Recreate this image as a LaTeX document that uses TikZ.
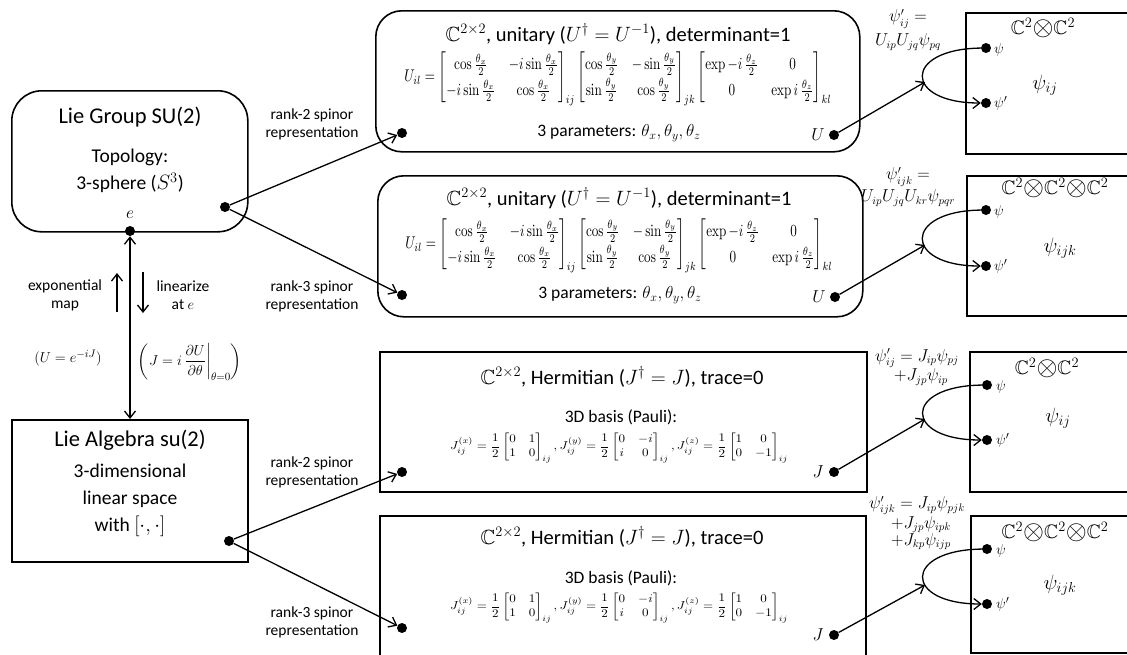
\documentclass[tikz,border=0pt]{standalone}
\usepackage{amsmath,amssymb}
\usepackage{graphicx}
\usepackage[no-math]{fontspec}
\setmainfont{Carlito}
\usetikzlibrary{arrows.meta}
\tikzset{
  box/.style={draw, line width=1.6pt, inner sep=0pt, anchor=north west},
  rbox/.style={box, rounded corners=26pt},
  dot/.style={circle, fill, inner sep=0pt, minimum size=10pt},
  tip/.style={-{Straight Barb[length=7pt,width=11pt,line width=1.3pt]}},
  conn/.style={line width=1.3pt, tip},
  lbl/.style={font=\fontsize{15.5}{18}\selectfont, align=center, inner sep=0pt},
  big/.style={font=\fontsize{22.5}{27}\selectfont, align=center, inner sep=0pt},
  mid/.style={font=\fontsize{19.5}{27}\selectfont, align=center, inner sep=0pt},
  ttl/.style={font=\fontsize{20.5}{24}\selectfont, inner sep=0pt},
  sub/.style={font=\fontsize{17.5}{21}\selectfont, inner sep=0pt},
  eq/.style={font=\fontsize{16}{24}\selectfont, inner sep=0pt, align=center},
  sm/.style={font=\fontsize{15}{18}\selectfont, inner sep=0pt},
  ten/.style={font=\fontsize{19.5}{22}\selectfont, inner sep=0pt},
  psi/.style={font=\fontsize{21}{24}\selectfont, inner sep=0pt},
}
\newcommand{\Umat}{\resizebox*{427pt}{54pt}{\renewcommand{\arraystretch}{1.25}$U_{il}=\begin{bmatrix}\cos\frac{\theta_x}{2} & -i\sin\frac{\theta_x}{2}\\ -i\sin\frac{\theta_x}{2} & \cos\frac{\theta_x}{2}\end{bmatrix}_{ij}\begin{bmatrix}\cos\frac{\theta_y}{2} & -\sin\frac{\theta_y}{2}\\ \sin\frac{\theta_y}{2} & \cos\frac{\theta_y}{2}\end{bmatrix}_{jk}\begin{bmatrix}\exp -i\,\frac{\theta_z}{2} & 0\\ 0 & \exp i\,\frac{\theta_z}{2}\end{bmatrix}_{kl}$}}
\newcommand{\Jmat}{\resizebox*{338pt}{30pt}{$J^{(x)}_{ij}=\dfrac{1}{2}\begin{bmatrix}0&1\\1&0\end{bmatrix}_{ij},J^{(y)}_{ij}=\dfrac{1}{2}\begin{bmatrix}0&-i\\i&0\end{bmatrix}_{ij},J^{(z)}_{ij}=\dfrac{1}{2}\begin{bmatrix}1&0\\0&-1\end{bmatrix}_{ij}$}}
\newcommand{\tensor}{\mathord{\raisebox{-0.12ex}{\scalebox{1.3}{$\otimes$}}}}
\begin{document}
\begin{tikzpicture}[x=1pt,y=-1pt]
\useasboundingbox (0,0) rectangle (1127,654);
\path[clip] (0,0) rectangle (1127,654);

% ---------- left column ----------
\node[rbox, rounded corners=30pt, minimum width=236pt, minimum height=141pt] (lg) at (11,90) {};
\node[big] (lgt) at (130,117) {Lie Group SU(2)};
\node[mid] (lgtop) at (130,171) {Topology:\\3-sphere ($S^3$)};
\node[sub] (elab) at (130,215) {$e$};
\node[dot] (e) at (130,231) {};
\node[dot] (lgd) at (225,207) {};

\node[box, minimum width=236pt, minimum height=142pt] (la) at (11,419) {};
\node[big] (lat) at (130,440) {Lie Algebra su(2)};
\node[mid] (lasub) at (130,500) {3-dimensional\\linear space\\with $[\cdot,\cdot]$};
\node[dot] (lad) at (229,541) {};

\draw[line width=1.3pt, {Straight Barb[length=7pt,width=11pt,line width=1.3pt]}-{Straight Barb[length=7pt,width=11pt,line width=1.3pt]}] (e) -- (e |- la.north);

\coordinate (ua) at (117,312); \coordinate (ub) at (117,273);
\coordinate (da) at (143,272); \coordinate (db) at (143,313);
\draw[conn] (ua) -- (ub);
\draw[conn] (da) -- (db);
\node[lbl] (expl) at (65,295) {exponential\\map};
\node[lbl] (linl) at (183,295) {linearize\\at $e$};
\node[sm] (ueq) at (68,358) {$(U=e^{-iJ})$};
\node[sm] (jeq) at (190,362) {$\left(J=i\,\dfrac{\partial U}{\partial\theta}\bigg|_{\theta=0}\right)$};

\node[lbl] (r2a) at (312,124) {rank-2 spinor\\representation};
\node[lbl] (r3a) at (312,296) {rank-3 spinor\\representation};
\node[lbl] (r2b) at (312,472) {rank-2 spinor\\representation};
\node[lbl] (r3b) at (312,622) {rank-3 spinor\\representation};

% ---------- middle column ----------
\node[rbox, minimum width=484pt, minimum height=141pt] (b1) at (375,10) {};
\node[ttl] (b1t) at (618,34) {$\mathbb{C}^{2\times 2}$, unitary ($U^\dagger=U^{-1}$), determinant=1};
\node[inner sep=0pt] (b1m) at (618,79) {\Umat};
\node[sub] (b1p) at (619,133) {3 parameters: $\theta_x,\theta_y,\theta_z$};
\node[dot] (b1l) at (402,133) {};
\node[dot] (b1r) at (834,135) {};
\node[sub] (b1u) at (818,135) {$U$};

\node[rbox, minimum width=485pt, minimum height=141pt] (b2) at (377,175) {};
\node[ttl] (b2t) at (619,198) {$\mathbb{C}^{2\times 2}$, unitary ($U^\dagger=U^{-1}$), determinant=1};
\node[inner sep=0pt] (b2m) at (619,246) {\Umat};
\node[sub] (b2p) at (620,295) {3 parameters: $\theta_x,\theta_y,\theta_z$};
\node[dot] (b2l) at (402,295) {};
\node[dot] (b2r) at (835,297) {};
\node[sub] (b2u) at (819,297) {$U$};

\node[box, minimum width=487pt, minimum height=140pt] (b3) at (379,351) {};
\node[ttl] (b3t) at (622,377) {$\mathbb{C}^{2\times 2}$, Hermitian ($J^\dagger=J$), trace=0};
\node[sub] (b3b) at (621,417) {3D basis (Pauli):};
\node[inner sep=0pt] (b3m) at (619,448) {\Jmat};
\node[dot] (b3l) at (402,472) {};
\node[dot] (b3r) at (834,472) {};
\node[sub] (b3j) at (818,472) {$J$};

\node[box, minimum width=486pt, minimum height=160pt] (b4) at (379,515) {};
\node[ttl] (b4t) at (622,537) {$\mathbb{C}^{2\times 2}$, Hermitian ($J^\dagger=J$), trace=0};
\node[sub] (b4b) at (621,578) {3D basis (Pauli):};
\node[inner sep=0pt] (b4m) at (619,608) {\Jmat};
\node[dot] (b4l) at (402,628) {};
\node[dot] (b4r) at (834,635) {};
\node[sub] (b4j) at (818,635) {$J$};

% ---------- right column ----------
\node[box, minimum width=200pt, minimum height=141pt] (c1) at (965,12) {};
\node[ten] (c1t) at (1043,28) {$\mathbb{C}^2\tensor\mathbb{C}^2$};
\node[psi] (c1p) at (1045,85) {$\psi_{ij}$};
\node[dot] (c1a) at (986,48) {};
\node[dot] (c1b) at (986,103) {};
\node[sm, anchor=west] (c1al) at (994,50) {$\psi$};
\node[sm, anchor=west] (c1bl) at (994,103) {$\psi'$};
\coordinate (t1) at (925,82);
\node[eq] (e1) at (908,30) {$\psi'_{ij}=$\\$U_{ip}U_{jq}\psi_{pq}$};

\node[box, minimum width=200pt, minimum height=140pt] (c2) at (966,175) {};
\node[ten] (c2t) at (1055,188) {$\mathbb{C}^2\tensor\mathbb{C}^2\tensor\mathbb{C}^2$};
\node[psi] (c2p) at (1060,248) {$\psi_{ijk}$};
\node[dot] (c2a) at (986,210) {};
\node[dot] (c2b) at (986,266) {};
\node[sm, anchor=west] (c2al) at (994,212) {$\psi$};
\node[sm, anchor=west] (c2bl) at (994,266) {$\psi'$};
\coordinate (t2) at (925,245);
\node[eq, font=\fontsize{16}{22}\selectfont] (e2) at (908,187) {$\psi'_{ijk}=$\\$U_{ip}U_{jq}U_{kr}\psi_{pqr}$};

\node[box, minimum width=200pt, minimum height=140pt] (c3) at (969,351) {};
\node[ten] (c3t) at (1047,368) {$\mathbb{C}^2\tensor\mathbb{C}^2$};
\node[psi] (c3p) at (1058,418) {$\psi_{ij}$};
\node[dot] (c3a) at (987,385) {};
\node[dot] (c3b) at (987,440) {};
\node[sm, anchor=west] (c3al) at (996,387) {$\psi$};
\node[sm, anchor=west] (c3bl) at (996,440) {$\psi'$};
\coordinate (t3) at (925,419);
\node[eq, font=\fontsize{16}{19.5}\selectfont] (e3) at (917,367) {$\psi'_{ij}=J_{ip}\psi_{pj}$\\\hspace*{8pt}$+J_{jp}\psi_{ip}$};

\node[box, minimum width=200pt, minimum height=137pt] (c4) at (970,515) {};
\node[ten] (c4t) at (1055,532) {$\mathbb{C}^2\tensor\mathbb{C}^2\tensor\mathbb{C}^2$};
\node[psi] (c4p) at (1060,585) {$\psi_{ijk}$};
\node[dot] (c4a) at (987,549) {};
\node[dot] (c4b) at (987,604) {};
\node[sm, anchor=west] (c4al) at (996,551) {$\psi$};
\node[sm, anchor=west] (c4bl) at (996,604) {$\psi'$};
\coordinate (t4) at (925,585);
\node[eq, font=\fontsize{16}{17}\selectfont] (e4) at (917,523) {$\psi'_{ijk}=J_{ip}\psi_{pjk}$\\\hspace*{8pt}$+J_{jp}\psi_{ipk}$\\\hspace*{8pt}$+J_{kp}\psi_{ijp}$};

% ---------- connectors ----------
\draw[conn] (lgd) -- (b1l);
\draw[conn] (lgd) -- (b2l);
\draw[conn] (lad) -- (b3l);
\draw[conn] (lad) -- (b4l);

\draw[conn] (b1r) -- (t1);
\draw[conn] (c1a) .. controls (903,49) and (903,103) .. (c1b);
\draw[conn] (b2r) -- (t2);
\draw[conn] (c2a) .. controls (903,211) and (903,266) .. (c2b);
\draw[conn] (b3r) -- (t3);
\draw[conn] (c3a) .. controls (903,386) and (903,440) .. (c3b);
\draw[conn] (b4r) -- (t4);
\draw[conn] (c4a) .. controls (903,550) and (903,604) .. (c4b);
\end{tikzpicture}
\end{document}
